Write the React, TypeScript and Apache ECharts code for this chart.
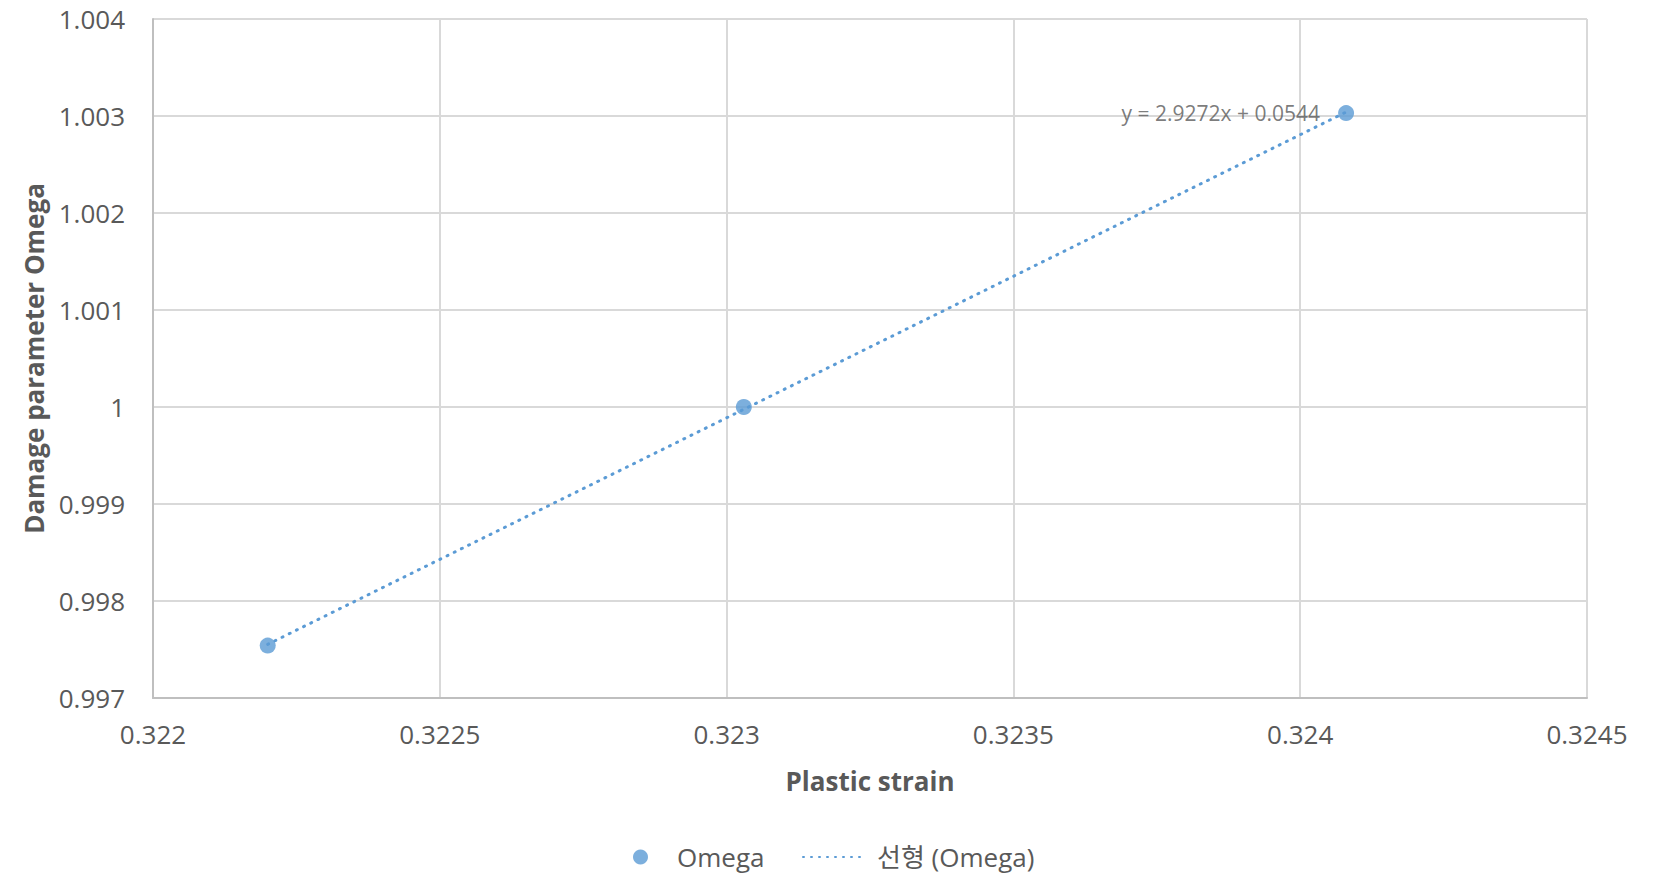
import React, { useEffect, useRef } from "react";
import * as echarts from "echarts";

const plasticStrain = [0.32220, 0.32303, 0.32408];
const omega = [0.99754, 1.0, 1.00303];
const seriesName = "Omega";
const trendName = "선형 (Omega)";
const equationText = "y = 2.9272x + 0.0544";
const xAxisTitle = "Plastic strain";
const yAxisTitle = "Damage parameter Omega";

const FONT = "'Open Sans', 'Noto Sans CJK KR', sans-serif";
const BLUE = "#5B9BD5";
const TEXT = "#595959";

function linearFit(xs: number[], ys: number[]) {
  const n = xs.length;
  const mx = xs.reduce((a, b) => a + b, 0) / n;
  const my = ys.reduce((a, b) => a + b, 0) / n;
  let sxy = 0;
  let sxx = 0;
  for (let i = 0; i < n; i++) {
    sxy += (xs[i] - mx) * (ys[i] - my);
    sxx += (xs[i] - mx) * (xs[i] - mx);
  }
  const slope = sxy / sxx;
  return { slope, intercept: my - slope * mx };
}

function fmt(v: number, d: number) {
  return String(parseFloat(v.toFixed(d)));
}

export default function App() {
  const ref = useRef<HTMLDivElement>(null);
  useEffect(() => {
    if (!ref.current) return;
    const chart = echarts.init(ref.current, undefined, { renderer: "svg" });
    const fit = linearFit(plasticStrain, omega);
    const xFirst = plasticStrain[0];
    const xLast = plasticStrain[plasticStrain.length - 1];
    const trend = [
      [xFirst, fit.slope * xFirst + fit.intercept],
      [xLast, fit.slope * xLast + fit.intercept],
    ];
    const scatterData = plasticStrain.map((x, i) => {
      const item: any = { value: [x, omega[i]] };
      if (i === plasticStrain.length - 1) {
        item.label = {
          show: true,
          position: "left",
          distance: 18,
          formatter: equationText,
          color: TEXT,
          fontSize: 21,
          fontFamily: FONT,
        };
      }
      return item;
    });
    chart.setOption({
      animation: false,
      backgroundColor: "#ffffff",
      textStyle: { fontFamily: FONT },
      grid: { left: 153, right: 71, top: 19, bottom: 178, containLabel: false },
      legend: [
        {
          data: [seriesName],
          left: 628,
          top: 839,
          itemWidth: 15,
          itemHeight: 15,
          icon: "circle",
          textStyle: { color: TEXT, fontSize: 26, fontFamily: FONT, padding: [0, 0, 0, 24] },
        },
        {
          data: [{ name: trendName, itemStyle: { opacity: 0 } }],
          left: 797,
          top: 839,
          itemWidth: 64,
          itemHeight: 3,
          textStyle: { color: TEXT, fontSize: 26, fontFamily: FONT, padding: [0, 0, 0, 5] },
        },
      ],
      xAxis: {
        type: "value",
        min: 0.322,
        max: 0.3245,
        interval: 0.0005,
        name: xAxisTitle,
        nameLocation: "middle",
        nameGap: 70,
        nameTextStyle: { color: TEXT, fontSize: 26, fontWeight: "bold", fontFamily: FONT },
        axisLine: { show: true, lineStyle: { color: "#BFBFBF", width: 2 } },
        axisTick: { show: false },
        axisLabel: { color: TEXT, fontSize: 26, margin: 23, fontFamily: FONT, formatter: (v: number) => fmt(v, 4) },
        splitLine: { show: true, lineStyle: { color: "#D9D9D9", width: 2 } },
      },
      yAxis: {
        type: "value",
        min: 0.997,
        max: 1.004,
        interval: 0.001,
        name: yAxisTitle,
        nameLocation: "middle",
        nameGap: 106,
        nameTextStyle: { color: TEXT, fontSize: 26, fontWeight: "bold", fontFamily: FONT },
        axisLine: { show: true, lineStyle: { color: "#BFBFBF", width: 2 } },
        axisTick: { show: false },
        axisLabel: { color: TEXT, fontSize: 26, margin: 28, fontFamily: FONT, formatter: (v: number) => fmt(v, 3) },
        splitLine: { show: true, lineStyle: { color: "#D9D9D9", width: 2 } },
      },
      series: [
        {
          name: trendName,
          type: "line",
          data: trend,
          symbol: "none",
          silent: true,
          z: 1,
          itemStyle: { color: BLUE },
          lineStyle: { color: BLUE, width: 3, type: [1, 7], cap: "round" },
        },
        {
          name: seriesName,
          type: "scatter",
          data: scatterData,
          symbol: "circle",
          symbolSize: 16,
          z: 2,
          itemStyle: { color: BLUE },
        },
      ],
    });
    return () => chart.dispose();
  }, []);
  return <div ref={ref} style={{ width: 1658, height: 876, position: "absolute", left: 0, top: 0 }} />;
}
